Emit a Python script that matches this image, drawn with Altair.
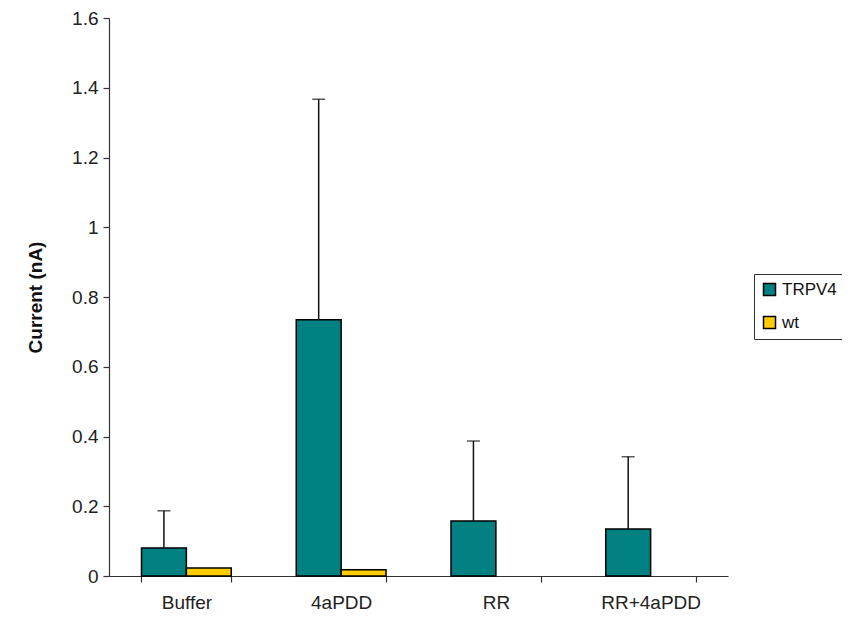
import altair as alt
import pandas as pd

categories = ["Buffer", "4aPDD", "RR", "RR+4aPDD"]
trpv4_mean = [0.080, 0.735, 0.158, 0.135]
trpv4_upper = [0.187, 1.367, 0.387, 0.342]
wt_mean = [0.023, 0.018, None, None]
series = ["TRPV4", "wt"]
colors = ["#008080", "#FFCC00"]

rows = []
for c, m, u in zip(categories, trpv4_mean, trpv4_upper):
    rows.append({"cat": c, "series": "TRPV4", "value": m, "upper": u})
for c, m in zip(categories, wt_mean):
    if m is not None:
        rows.append({"cat": c, "series": "wt", "value": m, "upper": None})
df = pd.DataFrame(rows)
err = df[df["series"] == "TRPV4"]

font = "Liberation Sans"

x = alt.X("cat:N", sort=categories, title=None,
          scale=alt.Scale(domain=categories, paddingInner=0.42, paddingOuter=0.21),
          axis=alt.Axis(labelAngle=0, labelPadding=11, tickBand="extent"))
y = alt.Y("value:Q", title="Current (nA)",
          scale=alt.Scale(domain=[0, 1.6], nice=False),
          axis=alt.Axis(values=[0, 0.2, 0.4, 0.6, 0.8, 1.0, 1.2, 1.4, 1.6],
                        format="~g", titlePadding=26))
xoff = alt.XOffset("series:N", sort=series, scale=alt.Scale(domain=series))

bars = alt.Chart(df).mark_bar(stroke="black", strokeWidth=1.5).encode(
    x=x, y=y, xOffset=xoff,
    color=alt.Color("series:N", sort=series,
                    scale=alt.Scale(domain=series, range=colors),
                    legend=alt.Legend(title=None, orient="none", legendX=645, legendY=256,
                                      strokeColor="#333", padding=7,
                                      symbolType="square", symbolSize=144,
                                      symbolStrokeColor="black", symbolStrokeWidth=1.5,
                                      rowPadding=14, labelOffset=4)),
)

rules = alt.Chart(err).mark_rule(color="#111", strokeWidth=1.5).encode(
    x=x, xOffset=xoff,
    y=y, y2="upper:Q",
)
caps = alt.Chart(err).mark_tick(color="#111", thickness=1.5, size=13, orient="horizontal").encode(
    x=x, xOffset=xoff,
    y=alt.Y("upper:Q", scale=alt.Scale(domain=[0, 1.6], nice=False)),
)

chart = alt.layer(bars, rules, caps).properties(
    width=619, height=558,
    autosize=alt.AutoSizeParams(type="none"),
    padding={"left": 101, "top": 10, "right": 114, "bottom": 36},
).configure(background="white").configure_view(stroke=None).configure_axis(
    grid=False, labelFontSize=19, labelColor="#222", labelFont=font,
    tickSize=6, domainColor="#333", tickColor="#333", domainWidth=1.2, tickWidth=1.2,
    titleFontSize=19, titleFontWeight="bold", titleFont=font, titleColor="#111",
).configure_axisY(labelPadding=5).configure_legend(
    labelFontSize=17, labelFont=font, labelColor="#111",
)

chart.save("out.html", embed_options={"renderer": "svg", "actions": False})
